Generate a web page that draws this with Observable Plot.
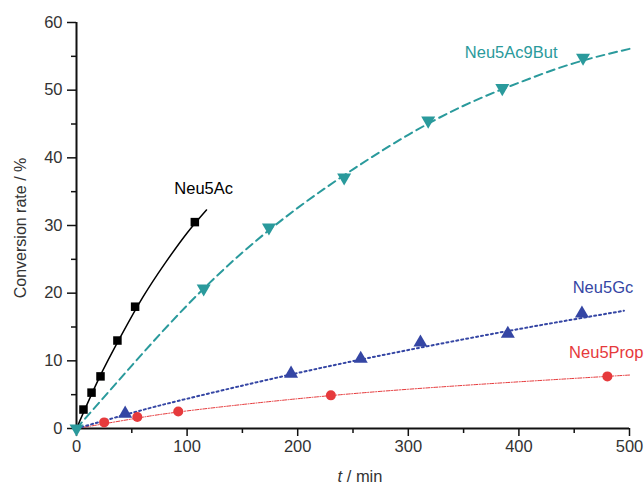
<!DOCTYPE html>
<html><head><meta charset="utf-8">
<script src="https://cdn.jsdelivr.net/npm/d3@7"></script>
<script src="https://cdn.jsdelivr.net/npm/@observablehq/plot@0.6"></script>
<style>
body{margin:0;background:#fff;}
#chart{width:644px;height:485px;}
</style></head><body><div id="chart"></div>
<script>
// Measured points (t / min, conversion %)
const acT = [6.3, 13.6, 21.7, 37, 53, 107];
const acY = [2.8, 5.3, 7.7, 13, 18, 30.5];
const butT = [0, 115, 174, 242, 318, 385, 458];
const butY = [0, 20.7, 29.7, 37.1, 45.5, 50.3, 54.8];
const gcT = [44, 194, 257, 311, 390, 457];
const gcY = [2.2, 8.1, 10.3, 12.7, 14.0, 17.0];
const propT = [25, 55, 92, 230, 480];
const propY = [0.9, 1.7, 2.5, 4.9, 7.7];

// Fitted curves
const acFitT = [0, 20, 40, 60, 80, 100, 117.5];
const acFitY = [0, 7.3, 13.6, 19.4, 24.4, 28.9, 32.3];
const butFitT = [0, 50, 100, 150, 200, 250, 300, 350, 400, 450, 500];
const butFitY = [0, 9.3, 18.2, 26.0, 32.6, 38.3, 43.4, 47.7, 51.1, 54.0, 56.1];
const gcFitT = [0, 50, 100, 200, 300, 400, 495];
const gcFitY = [0, 2.3, 4.4, 8.2, 11.6, 14.7, 17.4];
const propFitT = [0, 50, 100, 200, 300, 400, 500];
const propFitY = [0, 1.4, 2.6, 4.4, 5.8, 6.9, 7.9];

// Series labels
const seriesNames = ["Neu5Ac", "Neu5Ac9But", "Neu5Gc", "Neu5Prop"];
const seriesColors = ["#000000", "#2a9a9c", "#3546a4", "#e63a3c"];

// Ticks
const xTicks = [0, 100, 200, 300, 400, 500];
const xMinor = [50, 150, 250, 350, 450];
const yTicks = [0, 10, 20, 30, 40, 50, 60];
const yMinor = [5, 15, 25, 35, 45, 55];

const pts = (T, Y) => T.map((t, i) => ({t, y: Y[i]}));

const labelX = [115, 393, 476, 479];
const labelY = [35.4, 55.5, 20.8, 11.2];
const labels = seriesNames.map((n, i) => ({n, t: labelX[i], y: labelY[i], c: seriesColors[i]}));

const font = "Liberation Sans, Arial, sans-serif";

const plot = Plot.plot({
  width: 644,
  height: 485,
  marginLeft: 76,
  marginRight: 15,
  marginTop: 22,
  marginBottom: 57,
  style: {fontFamily: font, fontSize: "16px", color: "#333", background: "#fff"},
  x: {domain: [0, 500]},
  y: {domain: [0, 60]},
  marks: [
    Plot.axisX({ticks: xTicks, tickSize: 8, tickPadding: 4, label: null, stroke: "#111", strokeWidth: 1.5, fill: "#333", fontSize: 16.5}),
    Plot.axisX({ticks: xMinor, tickSize: 5, text: null, label: null, stroke: "#111", strokeWidth: 1.5}),
    Plot.axisY({ticks: yTicks, tickSize: 9, tickPadding: 5, label: null, stroke: "#111", strokeWidth: 1.5, fill: "#333", fontSize: 16.5}),
    Plot.axisY({ticks: yMinor, tickSize: 5, text: null, label: null, stroke: "#111", strokeWidth: 1.5}),
    Plot.ruleY([0], {stroke: "#111", strokeWidth: 2}),
    Plot.ruleX([0], {stroke: "#111", strokeWidth: 2}),
    Plot.line(pts(propFitT, propFitY), {x: "t", y: "y", curve: "natural", stroke: seriesColors[3], strokeWidth: 1, strokeDasharray: "4,1.5,1,1.5"}),
    Plot.line(pts(gcFitT, gcFitY), {x: "t", y: "y", curve: "natural", stroke: seriesColors[2], strokeWidth: 2, strokeDasharray: "2,3"}),
    Plot.line(pts(butFitT, butFitY), {x: "t", y: "y", curve: "natural", stroke: seriesColors[1], strokeWidth: 2, strokeDasharray: "8,5"}),
    Plot.line(pts(acFitT, acFitY), {x: "t", y: "y", curve: "natural", stroke: seriesColors[0], strokeWidth: 1.5}),
    Plot.dot(pts(propT, propY), {x: "t", y: "y", r: 5, fill: seriesColors[3], stroke: "none"}),
    Plot.dot(pts(gcT, gcY), {x: "t", y: "y", symbol: "triangle", r: 5.2, fill: seriesColors[2], stroke: "none"}),
    Plot.dot(pts(butT, butY), {x: "t", y: "y", symbol: "triangle", r: 5.2, rotate: 180, fill: seriesColors[1], stroke: "none"}),
    Plot.dot(pts(acT, acY), {x: "t", y: "y", symbol: "square", r: 4.8, fill: seriesColors[0], stroke: "none"}),
    Plot.text(labels, {x: "t", y: "y", text: "n", fill: "c", fontSize: 16.5})
  ]
});
document.getElementById("chart").appendChild(plot);

// axis titles
const svg = d3.select(plot);
svg.append("text")
  .attr("transform", "translate(22,228) rotate(-90)")
  .attr("text-anchor", "middle")
  .attr("dominant-baseline", "middle")
  .attr("font-family", font).attr("font-size", 16).attr("fill", "#333")
  .text("Conversion rate / %");
const xt = svg.append("text")
  .attr("x", 360).attr("y", 478)
  .attr("text-anchor", "middle")
  .attr("dominant-baseline", "middle")
  .attr("font-family", font).attr("font-size", 16.5).attr("fill", "#333");
xt.append("tspan").attr("font-style", "italic").text("t");
xt.append("tspan").text(" / min");
</script></body></html>
